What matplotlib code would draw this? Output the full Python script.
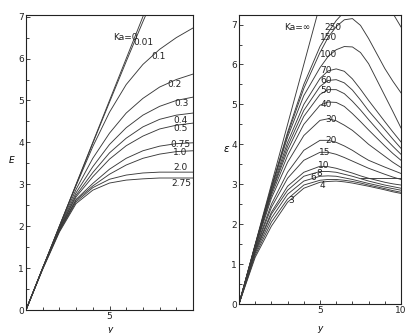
import numpy as np
import matplotlib
matplotlib.use('Agg')
import matplotlib.pyplot as plt
from matplotlib.ticker import MultipleLocator, FixedLocator

# ----------------------------------------------------------
# DATA: left panel (small Ka)
# ----------------------------------------------------------
L_X = [0, 1, 2, 3, 4, 5, 6, 7, 8, 9, 10]

L_KA0   = [0, 1.00, 2.00, 3.00, 4.00, 5.00, 6.00, 7.00, 8.00, 9.00, 10.0]
L_KA001 = [0, 1.00, 2.00, 2.99, 3.98, 4.96, 5.93, 6.88, 7.80, 8.70, 9.55]
L_KA01  = [0, 1.00, 2.00, 2.97, 3.90, 4.72, 5.38, 5.86, 6.22, 6.50, 6.73]
L_KA02  = [0, 1.00, 1.98, 2.88, 3.62, 4.22, 4.70, 5.05, 5.32, 5.50, 5.63]
L_KA03  = [0, 1.00, 1.96, 2.80, 3.42, 3.95, 4.35, 4.65, 4.86, 5.00, 5.08]
L_KA04  = [0, 1.00, 1.94, 2.74, 3.28, 3.75, 4.10, 4.37, 4.55, 4.65, 4.70]
L_KA05  = [0, 1.00, 1.93, 2.70, 3.18, 3.60, 3.92, 4.15, 4.32, 4.41, 4.46]
L_KA075 = [0, 1.00, 1.91, 2.64, 3.02, 3.36, 3.62, 3.80, 3.91, 3.97, 3.99]
L_KA10  = [0, 1.00, 1.90, 2.62, 2.96, 3.24, 3.46, 3.62, 3.72, 3.78, 3.80]
L_KA20  = [0, 0.98, 1.88, 2.58, 2.92, 3.12, 3.22, 3.27, 3.29, 3.29, 3.29]
L_KA275 = [0, 0.97, 1.86, 2.54, 2.86, 3.03, 3.10, 3.13, 3.15, 3.15, 3.15]

L_CURVES = [L_KA0, L_KA001, L_KA01, L_KA02, L_KA03, L_KA04, L_KA05,
            L_KA075, L_KA10, L_KA20, L_KA275]
L_LABELS = ['Ka=0', '0.01', '0.1', '0.2', '0.3', '0.4', '0.5',
            '0.75', '1.0', '2.0', '2.75']

# ----------------------------------------------------------
# DATA: right panel (large Ka)
# ----------------------------------------------------------
R_X = [0, 1, 2, 3, 4, 5, 5.5, 6, 6.5, 7, 7.5, 8, 9, 9.5, 10]

R_KAINF = [0, 1.50, 3.00, 4.50, 6.00, 7.50, 8.25, 9.00, 9.75, 10.5, 11.25, 12.0, 13.5, 14.25, 15.0]
R_KA250 = [0, 1.48, 2.93, 4.30, 5.50, 6.45, 6.80, 7.10, 7.32, 7.48, 7.56, 7.60, 7.45, 7.28, 6.94]
R_KA150 = [0, 1.48, 2.92, 4.25, 5.40, 6.30, 6.68, 6.95, 7.12, 7.15, 6.98, 6.65, 5.90, 5.58, 5.29]
R_KA100 = [0, 1.47, 2.90, 4.18, 5.22, 5.92, 6.20, 6.37, 6.45, 6.44, 6.30, 6.02, 5.22, 4.82, 4.41]
R_KA70  = [0, 1.46, 2.85, 4.05, 5.00, 5.65, 5.84, 5.89, 5.83, 5.64, 5.38, 5.10, 4.57, 4.31, 4.06]
R_KA60  = [0, 1.45, 2.80, 3.95, 4.85, 5.45, 5.60, 5.62, 5.54, 5.36, 5.11, 4.84, 4.37, 4.13, 3.90]
R_KA50  = [0, 1.44, 2.78, 3.85, 4.70, 5.25, 5.37, 5.37, 5.27, 5.08, 4.86, 4.62, 4.16, 3.95, 3.75]
R_KA40  = [0, 1.43, 2.72, 3.72, 4.50, 4.98, 5.06, 5.05, 4.95, 4.77, 4.57, 4.36, 3.96, 3.77, 3.60]
R_KA30  = [0, 1.41, 2.65, 3.55, 4.22, 4.60, 4.64, 4.59, 4.48, 4.35, 4.18, 4.00, 3.70, 3.55, 3.42]
R_KA20  = [0, 1.38, 2.50, 3.30, 3.85, 4.10, 4.10, 4.05, 3.96, 3.85, 3.72, 3.60, 3.43, 3.35, 3.27]
R_KA15  = [0, 1.36, 2.42, 3.15, 3.60, 3.80, 3.80, 3.75, 3.67, 3.58, 3.49, 3.40, 3.25, 3.18, 3.12]
R_KA10  = [0, 1.33, 2.30, 2.95, 3.30, 3.45, 3.44, 3.40, 3.34, 3.28, 3.21, 3.15, 3.05, 3.01, 2.98]
R_KA8   = [0, 1.31, 2.25, 2.85, 3.20, 3.32, 3.32, 3.30, 3.25, 3.20, 3.14, 3.08, 2.98, 2.94, 2.90]
R_KA6   = [0, 1.27, 2.15, 2.75, 3.08, 3.20, 3.21, 3.20, 3.16, 3.12, 3.07, 3.02, 2.93, 2.89, 2.85]
R_KA4   = [0, 1.22, 2.05, 2.63, 2.98, 3.10, 3.12, 3.12, 3.10, 3.07, 3.03, 2.98, 2.89, 2.84, 2.80]
R_KA3   = [0, 1.17, 1.95, 2.55, 2.90, 3.05, 3.07, 3.08, 3.06, 3.03, 2.99, 2.95, 2.86, 2.81, 2.77]

R_CURVES = [R_KAINF, R_KA250, R_KA150, R_KA100, R_KA70, R_KA60, R_KA50, R_KA40,
            R_KA30, R_KA20, R_KA15, R_KA10, R_KA8, R_KA6, R_KA4, R_KA3]
R_LABELS = ['Ka=\u221e', '250', '150', '100', '70', '60', '50', '40',
            '30', '20', '15', '10', '8', '6', '4', '3']

# short flat line on the right edge of the right panel
R_FLAT_X = [7.5, 10]
R_FLAT_Y = [3.15, 3.15]

# label anchor points (data coords), one per curve
L_LAB_POS = [(5.95, 6.50), (7.05, 6.38), (7.95, 6.06), (8.87, 5.37), (9.29, 4.92),
             (9.26, 4.53), (9.26, 4.32), (9.26, 3.94), (9.23, 3.75), (9.23, 3.39),
             (9.29, 3.03)]
R_LAB_POS = [(3.60, 6.93), (5.80, 6.93), (5.55, 6.67), (5.55, 6.24), (5.37, 5.86),
             (5.37, 5.59), (5.37, 5.36), (5.37, 5.01), (5.70, 4.61), (5.70, 4.10),
             (5.30, 3.79), (5.20, 3.47), (4.98, 3.28), (4.57, 3.16), (5.12, 2.98),
             (3.25, 2.60)]

# ----------------------------------------------------------
# FIGURE
# ----------------------------------------------------------
LC = '#3a3a3a'
LW = 0.65
FS = 6.5

fig = plt.figure(figsize=(4.15, 3.33), dpi=100)
ax1 = fig.add_axes([26/415, 1-310/333, 167/415, 295/333])
ax2 = fig.add_axes([239/415, 1-304/333, 162/415, 289/333])


def style_axes(ax, ymax, xticks):
    ax.set_xlim(0, 10)
    ax.set_ylim(0, ymax)
    ax.xaxis.set_major_locator(FixedLocator(xticks))
    ax.xaxis.set_minor_locator(MultipleLocator(1))
    ax.yaxis.set_major_locator(MultipleLocator(1))
    ax.yaxis.set_minor_locator(MultipleLocator(0.5))
    ax.tick_params(which='both', direction='in', colors='#222', labelsize=FS,
                   width=0.6, pad=1.5)
    ax.tick_params(which='major', length=3)
    ax.tick_params(which='minor', length=2)
    for s in ax.spines.values():
        s.set_linewidth(0.8)
        s.set_color('#222')


# Left panel
for ys, lab, pos in zip(L_CURVES, L_LABELS, L_LAB_POS):
    ax1.plot(L_X, ys, color=LC, lw=LW)
    ax1.text(pos[0], pos[1], lab, fontsize=FS, ha='center', va='center', color='#222')
style_axes(ax1, 7.04, [5])
ax1.set_xlabel('y', fontsize=FS, style='italic')
ax1.xaxis.set_label_coords(0.5, -0.05)
ax1.set_ylabel('E', fontsize=FS, style='italic', rotation=0)
ax1.yaxis.set_label_coords(-0.084, 0.49)

# Right panel
for ys, lab, pos in zip(R_CURVES, R_LABELS, R_LAB_POS):
    ax2.plot(R_X, ys, color=LC, lw=LW)
    ax2.text(pos[0], pos[1], lab, fontsize=FS, ha='center', va='center', color='#222')
ax2.plot(R_FLAT_X, R_FLAT_Y, color=LC, lw=LW)
style_axes(ax2, 7.24, [5, 10])
ax2.set_xlabel('y', fontsize=FS, style='italic')
ax2.xaxis.set_label_coords(0.5, -0.07)
ax2.set_ylabel('\u03b5', fontsize=FS + 1, style='italic', rotation=0)
ax2.yaxis.set_label_coords(-0.08, 0.52)

plt.savefig('out.png', dpi=100)
